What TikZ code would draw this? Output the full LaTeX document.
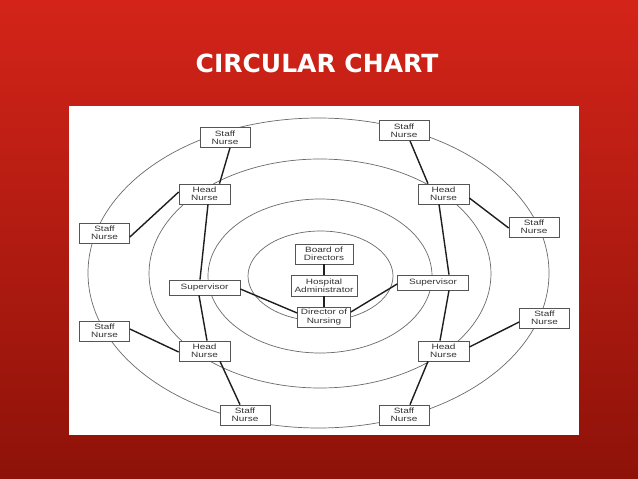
\documentclass[tikz,border=0pt]{standalone}
\usepackage{fontspec}
\newfontfamily\boxfont[FakeStretch=1.3]{Liberation Sans}
\newfontfamily\titlefont{DejaVu Sans}
\definecolor{bgtop}{HTML}{D42419}
\definecolor{bgbot}{HTML}{8E1209}
\definecolor{boxgray}{HTML}{555555}
\definecolor{boxtext}{HTML}{333333}
\definecolor{ringgray}{HTML}{6A6A6A}
\definecolor{linkdark}{HTML}{1E1E1E}
\begin{document}
\begin{tikzpicture}[x=1pt,y=-1pt,
  box/.style={draw=boxgray, line width=0.7pt, fill=white, align=center, inner sep=0pt,
    font=\boxfont\fontsize{7.7}{8.3}\selectfont, text=boxtext},
  sn/.style={box, minimum width=50, minimum height=20},
  hn/.style={box, minimum width=51, minimum height=20},
  sup/.style={box, minimum width=71, minimum height=15},
  ring/.style={draw=ringgray, line width=0.7pt},
  link/.style={draw=linkdark, line width=1.4pt}]
\useasboundingbox (0,0) rectangle (638,479);
\shade[top color=bgtop, bottom color=bgbot] (0,0) rectangle (638,479);
\node[font=\titlefont\bfseries\fontsize{25}{30}\selectfont, text=white, anchor=base] (title) at (317,72) {CIRCULAR CHART};
\fill[white] (69,106) rectangle (579,435);
% rings
\draw[ring] (318.5,273) ellipse [x radius=230.5, y radius=155];
\draw[ring] (320,273.5) ellipse [x radius=171, y radius=114.5];
\draw[ring] (320,276) ellipse [x radius=112, y radius=77];
\draw[ring] (320.5,276) ellipse [x radius=72.5, y radius=45];
% boxes
\node[sn] (stl) at (225,137.5) {Staff\\Nurse};
\node[hn] (htl) at (204.5,194) {Head\\Nurse};
\node[sn] (sl) at (104.5,233) {Staff\\Nurse};
\node[sup] (supl) at (204.5,287.5) {Supervisor};
\node[sn] (sll) at (104.5,331) {Staff\\Nurse};
\node[hn] (hbl) at (204.5,351) {Head\\Nurse};
\node[sn] (sbl) at (245,415) {Staff\\Nurse};
\node[box, minimum width=58, minimum height=20] (board) at (324,254) {Board of\\Directors};
\node[box, minimum width=66, minimum height=21] (admin) at (324,285.5) {Hospital\\Administrator};
\node[box, minimum width=53, minimum height=20] (dir) at (324,317) {Director of\\Nursing};
\node[sup] (supr) at (433,282.5) {Supervisor};
\node[sn] (str) at (404,130.5) {Staff\\Nurse};
\node[hn] (htr) at (443.5,194) {Head\\Nurse};
\node[sn] (sr) at (534,227) {Staff\\Nurse};
\node[sn] (srl) at (544.5,318) {Staff\\Nurse};
\node[hn] (hbr) at (443.5,351) {Head\\Nurse};
\node[sn] (sbr) at (404,415) {Staff\\Nurse};
% links
\draw[link] ([xshift=5pt]stl.south) -- ([xshift=15pt]htl.north);
\draw[link] ([yshift=2pt]htl.west) -- ([yshift=-4pt]sl.east);
\draw[link] ([xshift=3.5pt]htl.south) -- ([xshift=-4.5pt]supl.north);
\draw[link] ([xshift=-5.5pt]supl.south) -- ([xshift=2.5pt]hbl.north);
\draw[link] ([xshift=15.5pt]hbl.south) -- ([xshift=-5pt]sbl.north);
\draw[link] ([yshift=2pt]sll.east) -- ([yshift=-1pt]hbl.west);
\draw[link] ([yshift=-1.5pt]supl.east) -- ([yshift=4pt]dir.west);
\draw[link] (board.south) -- (admin.north);
\draw[link] (admin.south) -- (dir.north);
\draw[link] ([yshift=5pt]dir.east) -- ([yshift=-1.5pt]supr.west);
\draw[link] ([xshift=6pt]str.south) -- ([xshift=-15.5pt]htr.north);
\draw[link] ([yshift=-4pt]htr.east) -- ([yshift=-1pt]sr.west);
\draw[link] ([xshift=-4.5pt]htr.south) -- ([xshift=16pt]supr.north);
\draw[link] ([xshift=16pt]supr.south) -- ([xshift=-3.5pt]hbr.north);
\draw[link] ([xshift=-15.5pt]hbr.south) -- ([xshift=6pt]sbr.north);
\draw[link] ([yshift=4pt]hbr.east) -- ([yshift=-4pt]srl.west);
\end{tikzpicture}
\end{document}
